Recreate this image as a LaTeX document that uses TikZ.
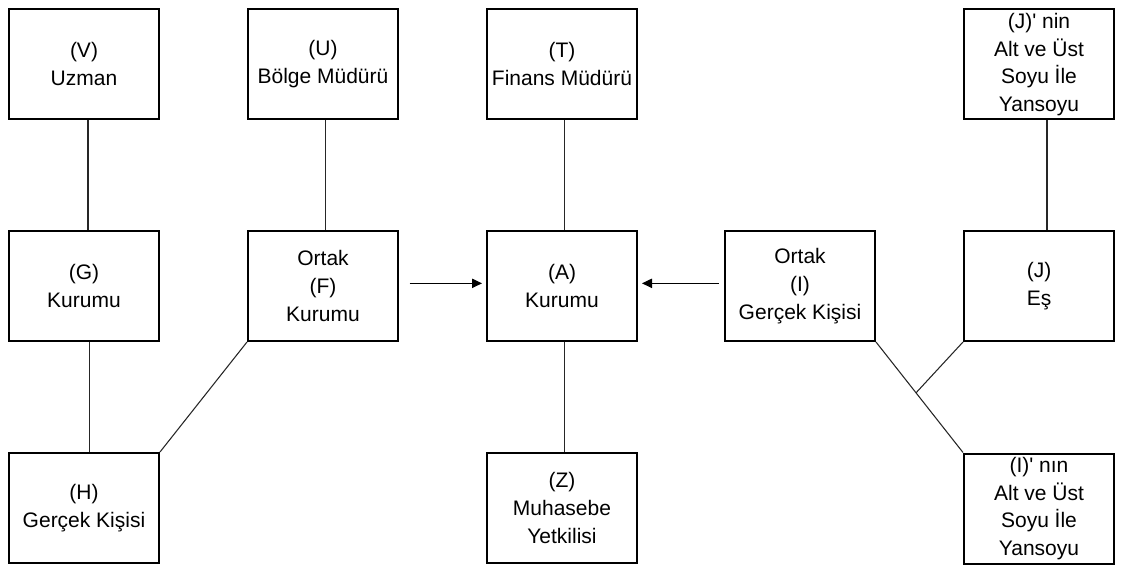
\documentclass[tikz,border=0pt]{standalone}
\usepackage{fontspec}
\setmainfont{Liberation Sans}
\usetikzlibrary{arrows.meta}
\begin{document}
\begin{tikzpicture}[x=0.75pt,y=-0.75pt,
  box/.style={draw, line width=1.5pt, minimum width=112.5pt, minimum height=82.5pt,
    inner sep=0pt, align=center, font=\fontsize{15.75pt}{20.8pt}\selectfont},
  link/.style={draw, line width=0.8pt, black!85},
  arr/.style={draw, line width=0.8pt, -{Triangle[length=7.5pt,width=7pt]}}]
\useasboundingbox (0,0) rectangle (1121,570);
% top row
\node[box] (V)  at (84,64)   {(V)\\Uzman};
\node[box] (U)  at (323,64)  {(U)\\Bölge Müdürü};
\node[box] (T)  at (562,64)  {(T)\\Finans Müdürü};
\node[box] (Jp) at (1039,64.5) {(J)\textquotesingle{} nin\\Alt ve Üst\\Soyu İle\\Yansoyu};
% middle row
\node[box] (G) at (84,286)   {(G)\\Kurumu};
\node[box] (F) at (323,286)  {Ortak\\(F)\\Kurumu};
\node[box] (A) at (562,286)  {(A)\\Kurumu};
\node[box] (I) at (800,286)  {Ortak\\(I)\\Gerçek Kişisi};
\node[box] (J) at (1039,286) {(J)\\Eş};
% bottom row
\node[box] (H)  at (84,508)   {(H)\\Gerçek Kişisi};
\node[box] (Z)  at (562,508)  {(Z)\\Muhasebe\\Yetkilisi};
\node[box] (Ip) at (1039,508.5) {(I)\textquotesingle{} nın\\Alt ve Üst\\Soyu İle\\Yansoyu};
% connectors
\path[link] ([xshift=3]V.south) -- ([xshift=3]G.north);
\path[link] ([xshift=2]U.south) -- ([xshift=2]U.south |- F.north);
\path[link] ([xshift=2]T.south) -- ([xshift=2]A.north);
\path[link] ([xshift=2]A.south) -- ([xshift=2]Z.north);
\path[link] ([xshift=6]Jp.south) -- ([xshift=6]J.north);
\path[link] ([xshift=4]G.south) -- ([xshift=4]H.north);
\path[link] (F.south west) -- (H.north east);
\path[link] (I.south east) -- coordinate[pos=0.46] (m) (Ip.north west);
\path[link] (J.south west) -- (m);
\path[arr] ([xshift=8,yshift=2]F.east) -- ([xshift=-3,yshift=2]A.west);
\path[arr] ([xshift=-4,yshift=2]I.west) -- ([xshift=3,yshift=2]A.east);
\end{tikzpicture}
\end{document}
